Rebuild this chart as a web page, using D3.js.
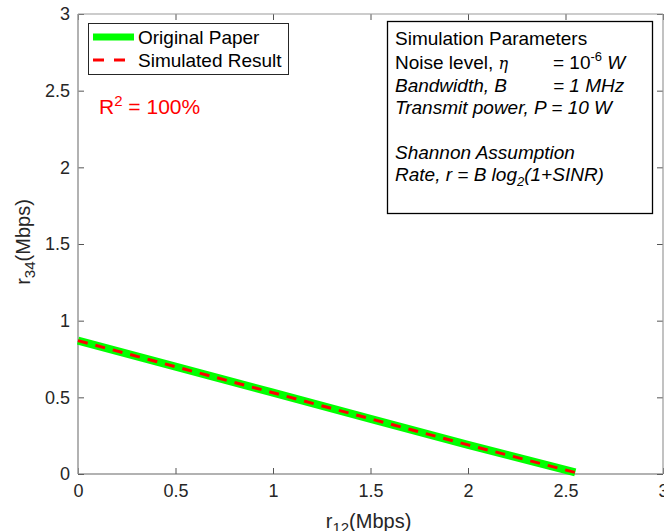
<!DOCTYPE html>
<html>
<head>
<meta charset="utf-8">
<script src="https://cdn.jsdelivr.net/npm/d3@7"></script>
<style>
  body { margin: 0; background: #fff; }
  svg { display: block; font-family: "Liberation Sans", Arial, sans-serif; }
  .tick text { font-size: 18px; fill: #262626; }
</style>
</head>
<body>
<div class="chart"></div>
<script>
// data
var r12Paper = [0, 0.5, 1, 1.5, 2, 2.55];
var r34Paper = [0.87, 0.70, 0.53, 0.36, 0.19, 0.01];
var r12Sim = [0, 0.5, 1, 1.5, 2, 2.55];
var r34Sim = [0.87, 0.70, 0.53, 0.36, 0.19, 0.01];
var xTicks = [0, 0.5, 1, 1.5, 2, 2.5, 3];
var yTicks = [0, 0.5, 1, 1.5, 2, 2.5, 3];

// dimensions
var W = 664, H = 531;
var margin = {top: 14, right: 1, bottom: 57, left: 78};
var width = W - margin.left - margin.right;
var height = H - margin.top - margin.bottom;

var x = d3.scaleLinear().domain([0, 3]).range([0, width]);
var y = d3.scaleLinear().domain([0, 3]).range([height, 0]);

var svg = d3.select(".chart").append("svg")
  .attr("width", W)
  .attr("height", H);

var chart = svg.append("g")
  .attr("transform", "translate(" + margin.left + "," + margin.top + ")");

// axes with inside ticks
var fmt = function(d) { return String(d); };
chart.append("g")
  .attr("transform", "translate(0," + height + ")")
  .call(d3.axisBottom(x).tickValues(xTicks).tickFormat(fmt).tickSize(-6).tickPadding(10));
chart.append("g")
  .call(d3.axisLeft(y).tickValues(yTicks).tickFormat(fmt).tickSize(-6).tickPadding(8));
chart.append("g")
  .call(d3.axisTop(x).tickValues(xTicks).tickFormat("").tickSize(-6));
chart.append("g")
  .attr("transform", "translate(" + width + ",0)")
  .call(d3.axisRight(y).tickValues(yTicks).tickFormat("").tickSize(-6));

chart.selectAll(".domain").remove();
chart.selectAll(".tick line").attr("stroke", "#555");

// box lines
chart.append("line").attr("x1", 0).attr("x2", width).attr("y1", height).attr("y2", height)
  .attr("stroke", "#666").attr("stroke-width", 1.2);
chart.append("line").attr("x1", 0).attr("x2", 0).attr("y1", 0).attr("y2", height)
  .attr("stroke", "#999").attr("stroke-width", 1.5);
chart.append("line").attr("x1", 0).attr("x2", width).attr("y1", 0).attr("y2", 0)
  .attr("stroke", "#999").attr("stroke-width", 1.2);
chart.append("line").attr("x1", width).attr("x2", width).attr("y1", 0).attr("y2", height)
  .attr("stroke", "#999").attr("stroke-width", 1.2);

// lines
var line = d3.line()
  .x(function(d) { return x(d[0]); })
  .y(function(d) { return y(d[1]); });

chart.append("path")
  .datum(d3.zip(r12Paper, r34Paper))
  .attr("fill", "none")
  .attr("stroke", "#00ff00")
  .attr("stroke-width", 8)
  .attr("d", line);

chart.append("path")
  .datum(d3.zip(r12Sim, r34Sim))
  .attr("fill", "none")
  .attr("stroke", "#ff0000")
  .attr("stroke-width", 3)
  .attr("stroke-dasharray", "10,8")
  .attr("d", line);

// axis labels
var xl = svg.append("text")
  .attr("x", margin.left + width / 2 - 2)
  .attr("y", 528)
  .attr("text-anchor", "middle")
  .style("font-size", "20px")
  .attr("fill", "#262626");
xl.append("tspan").text("r");
xl.append("tspan").attr("dy", 5).style("font-size", "15px").text("12");
xl.append("tspan").attr("dy", -5).text("(Mbps)");

var yl = svg.append("text")
  .attr("transform", "translate(30," + (margin.top + height / 2 - 2) + ") rotate(-90)")
  .attr("text-anchor", "middle")
  .style("font-size", "20px")
  .attr("fill", "#262626");
yl.append("tspan").text("r");
yl.append("tspan").attr("dy", 5).style("font-size", "15px").text("34");
yl.append("tspan").attr("dy", -5).text("(Mbps)");

// legend
var legend = svg.append("g");
legend.append("rect")
  .attr("x", 88.5).attr("y", 23.5).attr("width", 200).attr("height", 51)
  .attr("fill", "#fff").attr("stroke", "#262626").attr("stroke-width", 1);
legend.append("line").attr("x1", 93).attr("x2", 134).attr("y1", 37).attr("y2", 37)
  .attr("stroke", "#00ff00").attr("stroke-width", 7);
legend.append("line").attr("x1", 93).attr("x2", 134).attr("y1", 60).attr("y2", 60)
  .attr("stroke", "#ff0000").attr("stroke-width", 3).attr("stroke-dasharray", "11,10");
legend.append("text").attr("x", 138).attr("y", 44).style("font-size", "19px")
  .attr("fill", "#000").text("Original Paper");
legend.append("text").attr("x", 138).attr("y", 67).style("font-size", "19px")
  .attr("fill", "#000").text("Simulated Result");

// R^2 note
var r2 = svg.append("text").attr("x", 99).attr("y", 114)
  .style("font-size", "21px").attr("fill", "#ff0000");
r2.append("tspan").text("R");
r2.append("tspan").attr("dy", -8).style("font-size", "15px").text("2");
r2.append("tspan").attr("dy", 8).text(" = 100%");

// parameters box
var params = svg.append("g").style("font-size", "19px");
params.append("rect")
  .attr("x", 387.5).attr("y", 21.5).attr("width", 265).attr("height", 192)
  .attr("fill", "#fff").attr("stroke", "#000").attr("stroke-width", 1.3);

var px = 395, eqx = 553;
params.append("text").attr("x", px).attr("y", 45)
  .text("Simulation Parameters");

var t1 = params.append("text").attr("x", px).attr("y", 69);
t1.append("tspan").text("Noise level, ");
t1.append("tspan").style("font-family", "'DejaVu Serif', serif").style("font-style", "italic")
  .style("font-size", "16px").text("η");
var t1b = params.append("text").attr("x", eqx).attr("y", 69);
t1b.append("tspan").text("= 10");
t1b.append("tspan").attr("dy", -8).style("font-size", "13px").text("-6");
t1b.append("tspan").attr("dy", 8).text(" ");
t1b.append("tspan").style("font-style", "italic").text("W");

params.append("text").attr("x", px).attr("y", 92)
  .style("font-style", "italic").text("Bandwidth, B");
params.append("text").attr("x", eqx).attr("y", 92)
  .style("font-style", "italic").text("= 1 MHz");
params.append("text").attr("x", px).attr("y", 114)
  .style("font-style", "italic").text("Transmit power, P = 10 W");
params.append("text").attr("x", px).attr("y", 159)
  .style("font-style", "italic").text("Shannon Assumption");
var t5 = params.append("text").attr("x", px).attr("y", 181)
  .style("font-style", "italic");
t5.append("tspan").text("Rate, r = B log");
t5.append("tspan").attr("dy", 5).style("font-size", "13px").text("2");
t5.append("tspan").attr("dy", -5).text("(1+SINR)");
</script>
</body>
</html>
